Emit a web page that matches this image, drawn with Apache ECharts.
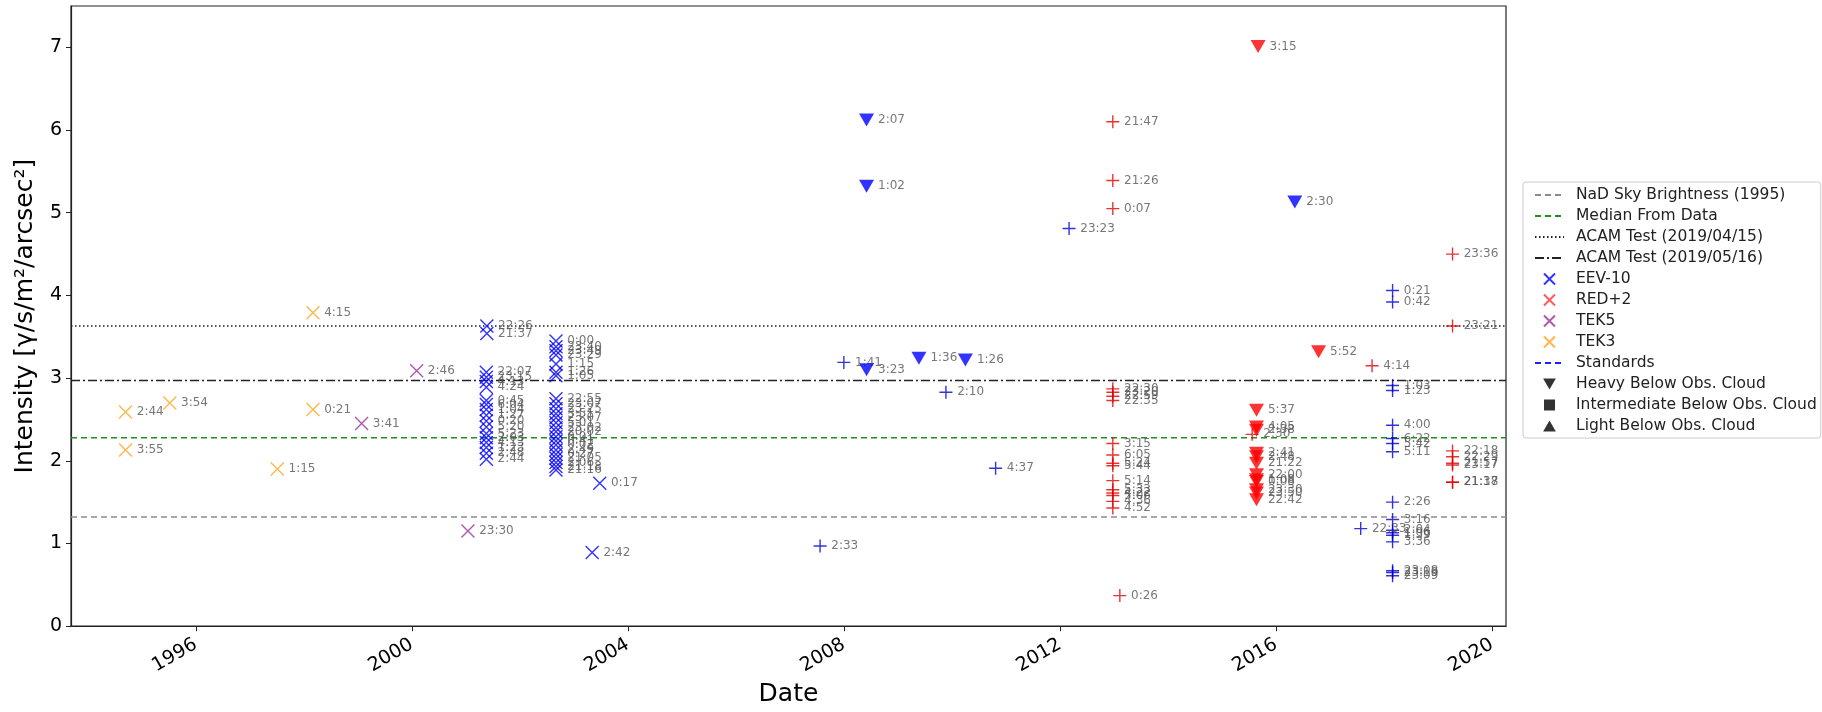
<!DOCTYPE html>
<html><head><meta charset="utf-8">
<script src="https://cdn.jsdelivr.net/npm/echarts@6/dist/echarts.min.js"></script>
<style>html,body{margin:0;padding:0;background:#fff}#c{width:1822px;height:712px}</style>
</head><body><div id="c"></div>
<script>
// ---- axis ticks ----
const xTicks = [1996, 2000, 2004, 2008, 2012, 2016, 2020];
const yTicks = [0, 1, 2, 3, 4, 5, 6, 7];
const xRange = [1993.69, 2020.26];
const yRange = [0, 7.5];

// ---- reference lines ----
const refNames = ['NaD Sky Brightness (1995)', 'Median From Data', 'ACAM Test (2019/04/15)', 'ACAM Test (2019/05/16)'];
const refValues = [1.32, 2.28, 3.63, 2.97];

// ---- data: [decimal year, intensity, time label] ----
const tek3 = [
  [1994.70, 2.59, '2:44'], [1994.70, 2.13, '3:55'], [1995.52, 2.70, '3:54'],
  [1997.51, 1.90, '1:15'], [1998.17, 3.79, '4:15'], [1998.17, 2.62, '0:21']
];
const tek5 = [
  [1999.07, 2.45, '3:41'], [2000.09, 3.09, '2:46'], [2001.04, 1.15, '23:30']
];
const eev10 = [
  [2001.39, 3.63, '22:26'], [2001.39, 3.54, '21:37'],
  [2001.38, 3.07, '22:07'], [2001.38, 3.01, '23:15'], [2001.38, 2.96, '4:13'], [2001.38, 2.89, '4:24'],
  [2001.38, 2.73, '0:45'], [2001.38, 2.68, '6:04'], [2001.38, 2.62, '1:04'], [2001.38, 2.55, '1:27'],
  [2001.38, 2.48, '0:20'], [2001.38, 2.41, '5:20'], [2001.38, 2.33, '5:23'], [2001.38, 2.28, '2:03'],
  [2001.38, 2.22, '4:13'], [2001.38, 2.16, '1:23'], [2001.38, 2.09, '2:48'], [2001.38, 2.02, '2:44'],
  [2002.67, 3.45, '0:00'], [2002.67, 3.38, '23:40'], [2002.67, 3.33, '23:49'], [2002.67, 3.28, '23:29'],
  [2002.67, 3.17, '1:15'], [2002.67, 3.07, '1:26'], [2002.67, 3.03, '1:05'],
  [2002.67, 2.75, '22:55'], [2002.67, 2.69, '23:07'], [2002.67, 2.63, '23:25'], [2002.67, 2.57, '3:51'],
  [2002.67, 2.52, '23:07'], [2002.67, 2.46, '5:01'], [2002.67, 2.40, '23:02'], [2002.67, 2.35, '20:02'],
  [2002.67, 2.29, '0:01'], [2002.67, 2.24, '0:41'], [2002.67, 2.19, '0:02'], [2002.67, 2.13, '2:49'],
  [2002.67, 2.08, '0:27'], [2002.67, 2.03, '21:05'], [2002.67, 1.98, '2:06'], [2002.67, 1.93, '21:18'],
  [2002.67, 1.89, '21:16'],
  [2003.48, 1.73, '0:17'], [2003.34, 0.89, '2:42']
];
const bluePlus = [
  [2007.56, 0.97, '2:33'], [2008.00, 3.19, '1:41'], [2009.89, 2.83, '2:10'], [2010.81, 1.91, '4:37'],
  [2012.17, 4.81, '23:23'], [2017.57, 1.18, '22:33'],
  [2018.16, 4.06, '0:21'], [2018.16, 3.92, '0:42'], [2018.16, 2.91, '1:03'], [2018.16, 2.85, '1:23'],
  [2018.16, 2.43, '4:00'], [2018.16, 2.27, '6:22'], [2018.16, 2.21, '5:42'], [2018.16, 2.11, '5:11'],
  [2018.16, 1.50, '2:26'], [2018.16, 1.29, '3:16'], [2018.16, 1.16, '2:04'], [2018.16, 1.13, '1:06'],
  [2018.16, 1.10, '1:39'], [2018.16, 1.02, '3:36'], [2018.16, 0.67, '23:08'], [2018.16, 0.65, '23:19'],
  [2018.16, 0.61, '23:09']
];
const redPlus = [
  [2012.98, 6.10, '21:47'], [2012.98, 5.39, '21:26'], [2012.98, 5.05, '0:07'],
  [2012.98, 2.87, '22:30'], [2012.98, 2.83, '23:20'], [2012.98, 2.78, '22:59'], [2012.98, 2.73, '22:35'],
  [2012.98, 2.21, '3:15'], [2012.98, 2.07, '6:05'], [2012.98, 1.97, '5:24'], [2012.98, 1.94, '5:44'],
  [2012.98, 1.76, '5:14'], [2012.98, 1.65, '5:33'], [2012.98, 1.61, '4:22'], [2012.98, 1.58, '5:06'],
  [2012.98, 1.51, '4:36'], [2012.98, 1.43, '4:52'], [2013.11, 0.37, '0:26'],
  [2015.56, 2.32, '2:30'], [2017.78, 3.15, '4:14'],
  [2019.27, 4.50, '23:36'], [2019.27, 3.63, '23:21'], [2019.27, 2.12, '22:18'], [2019.27, 2.05, '22:29'],
  [2019.27, 1.97, '21:57'], [2019.27, 1.95, '23:17'], [2019.27, 1.74, '21:18'], [2019.27, 1.74, '21:37']
];
const blueHeavy = [
  [2008.42, 6.12, '2:07'], [2008.42, 5.32, '1:02'], [2008.42, 3.10, '3:23'],
  [2009.39, 3.24, '1:36'], [2010.25, 3.22, '1:26'], [2016.35, 5.13, '2:30']
];
const redHeavy = [
  [2015.67, 7.01, '3:15'], [2015.64, 2.61, '5:37'], [2015.64, 2.41, '4:05'], [2015.64, 2.37, '2:38'],
  [2015.64, 2.09, '2:41'], [2015.64, 2.05, '2:48'], [2015.64, 1.97, '21:22'], [2015.64, 1.83, '22:00'],
  [2015.64, 1.77, '1:08'], [2015.64, 1.75, '0:08'], [2015.64, 1.65, '23:30'], [2015.64, 1.61, '23:50'],
  [2015.64, 1.53, '22:42'], [2016.79, 3.32, '5:52']
];

// ---- styles ----
const FONT = 'DejaVu Sans';
const SYM_X = 'path://M0,0L10,10M10,0L0,10';
const SYM_PLUS = 'path://M5,0L5,10M0,5L10,5';
const SYM_TRI = 'path://M0,0L10,0L5,8.66Z';
const SYM_SQ = 'path://M0,0L10,0L10,10L0,10Z';
const SYM_TRI_UP = 'path://M5,0L10,8.66L0,8.66Z';
const ptLabel = {
  show: true, position: 'right', distance: 4, color: '#555', fontSize: 12, fontFamily: FONT,
  formatter: p => p.value[2]
};

function strokeSeries(name, data, symbol, color, size) {
  return {
    type: 'scatter', name: name, data: data, symbol: symbol, symbolSize: size,
    itemStyle: { color: 'rgba(0,0,0,0)', borderColor: color, borderWidth: 1.4 },
    label: ptLabel, silent: true, z: 3
  };
}
function refLine(name, value, color, type, width) {
  return {
    type: 'line', name: name, data: [[xRange[0], value], [xRange[1], value]],
    symbol: 'none', silent: true, z: 2,
    itemStyle: { color: 'rgba(0,0,0,0)', borderWidth: 0 },
    lineStyle: { color: color, type: type, width: width }
  };
}

const heavyData = blueHeavy.map(d => ({ value: d, itemStyle: { color: '#0000ff' } }))
  .concat(redHeavy.map(d => ({ value: d, itemStyle: { color: '#ff0000' } })));

const series = [
  refLine(refNames[0], refValues[0], '#8c8c8c', [6, 4], 1.5),
  refLine(refNames[1], refValues[1], '#1f8f1f', [6, 4], 1.5),
  refLine(refNames[2], refValues[2], '#222', [1.5, 2.5], 1.5),
  refLine(refNames[3], refValues[3], '#222', [9, 3, 2, 3], 1.5),
  strokeSeries('EEV-10', eev10, SYM_X, '#0000ff', 13),
  strokeSeries('RED+2', [], SYM_X, '#ff3030', 13),
  strokeSeries('TEK5', tek5, SYM_X, '#9a2f9a', 13),
  strokeSeries('TEK3', tek3, SYM_X, '#ffa520', 13),
  {
    type: 'line', name: 'Standards', data: [], symbol: 'none',
    itemStyle: { color: 'rgba(0,0,0,0)', borderWidth: 0 },
    lineStyle: { color: '#2020ff', type: [6, 4], width: 1.5 }
  },
  {
    type: 'scatter', name: 'Heavy Below Obs. Cloud', data: heavyData, symbol: SYM_TRI, symbolSize: [15, 13],
    itemStyle: { color: '#000' }, label: ptLabel, silent: true, z: 4
  },
  { type: 'scatter', name: 'Intermediate Below Obs. Cloud', data: [], symbol: SYM_SQ, symbolSize: 10, itemStyle: { color: '#000' } },
  { type: 'scatter', name: 'Light Below Obs. Cloud', data: [], symbol: SYM_TRI_UP, symbolSize: 10, itemStyle: { color: '#000' } },
  strokeSeries('std-blue', bluePlus, SYM_PLUS, '#0000cc', 13),
  strokeSeries('std-red', redPlus, SYM_PLUS, '#e00000', 13)
];

const chart = echarts.init(document.getElementById('c'), null, { renderer: 'canvas' });
chart.setOption({
  animation: false,
  backgroundColor: '#fff',
  grid: { left: 71, right: 316, top: 6, bottom: 79, show: true, borderColor: '#222', borderWidth: 1.2, backgroundColor: 'transparent' },
  xAxis: {
    type: 'value', min: xRange[0], max: xRange[1],
    name: 'Date', nameLocation: 'middle', nameGap: 54,
    nameTextStyle: { fontSize: 25, fontFamily: FONT, color: '#000' },
    axisLine: { show: true, lineStyle: { color: '#222', width: 1.2 } },
    axisTick: { show: true, inside: false, length: 5, customValues: xTicks, lineStyle: { color: '#222' } },
    axisLabel: { customValues: xTicks, rotate: 30, margin: 17, fontSize: 19, fontFamily: FONT, color: '#000', formatter: v => String(v) },
    splitLine: { show: false }
  },
  yAxis: {
    type: 'value', min: yRange[0], max: yRange[1],
    name: 'Intensity [γ/s/m²/arcsec²]', nameLocation: 'middle', nameGap: 33,
    nameTextStyle: { fontSize: 25, fontFamily: FONT, color: '#000' },
    axisLine: { show: true, lineStyle: { color: '#222', width: 1.2 } },
    axisTick: { show: true, inside: false, length: 5, customValues: yTicks, lineStyle: { color: '#222' } },
    axisLabel: { customValues: yTicks, margin: 9, fontSize: 19, fontFamily: FONT, color: '#000' },
    splitLine: { show: false }
  },
  legend: {
    orient: 'vertical', left: 1523, top: 182, selectedMode: false,
    padding: [5, 4, 4, 11], itemWidth: 29, itemHeight: 11, itemGap: 5,
    borderColor: '#ccc', borderWidth: 1, borderRadius: 3, backgroundColor: '#fff',
    textStyle: { fontSize: 15.5, fontFamily: FONT, color: '#222', lineHeight: 15, padding: [0, 0, 0, 7] },
    data: ['NaD Sky Brightness (1995)', 'Median From Data', 'ACAM Test (2019/04/15)', 'ACAM Test (2019/05/16)',
      'EEV-10', 'RED+2', 'TEK5', 'TEK3', 'Standards', 'Heavy Below Obs. Cloud', 'Intermediate Below Obs. Cloud', 'Light Below Obs. Cloud']
  },
  series: series
});
</script>
</body></html>
